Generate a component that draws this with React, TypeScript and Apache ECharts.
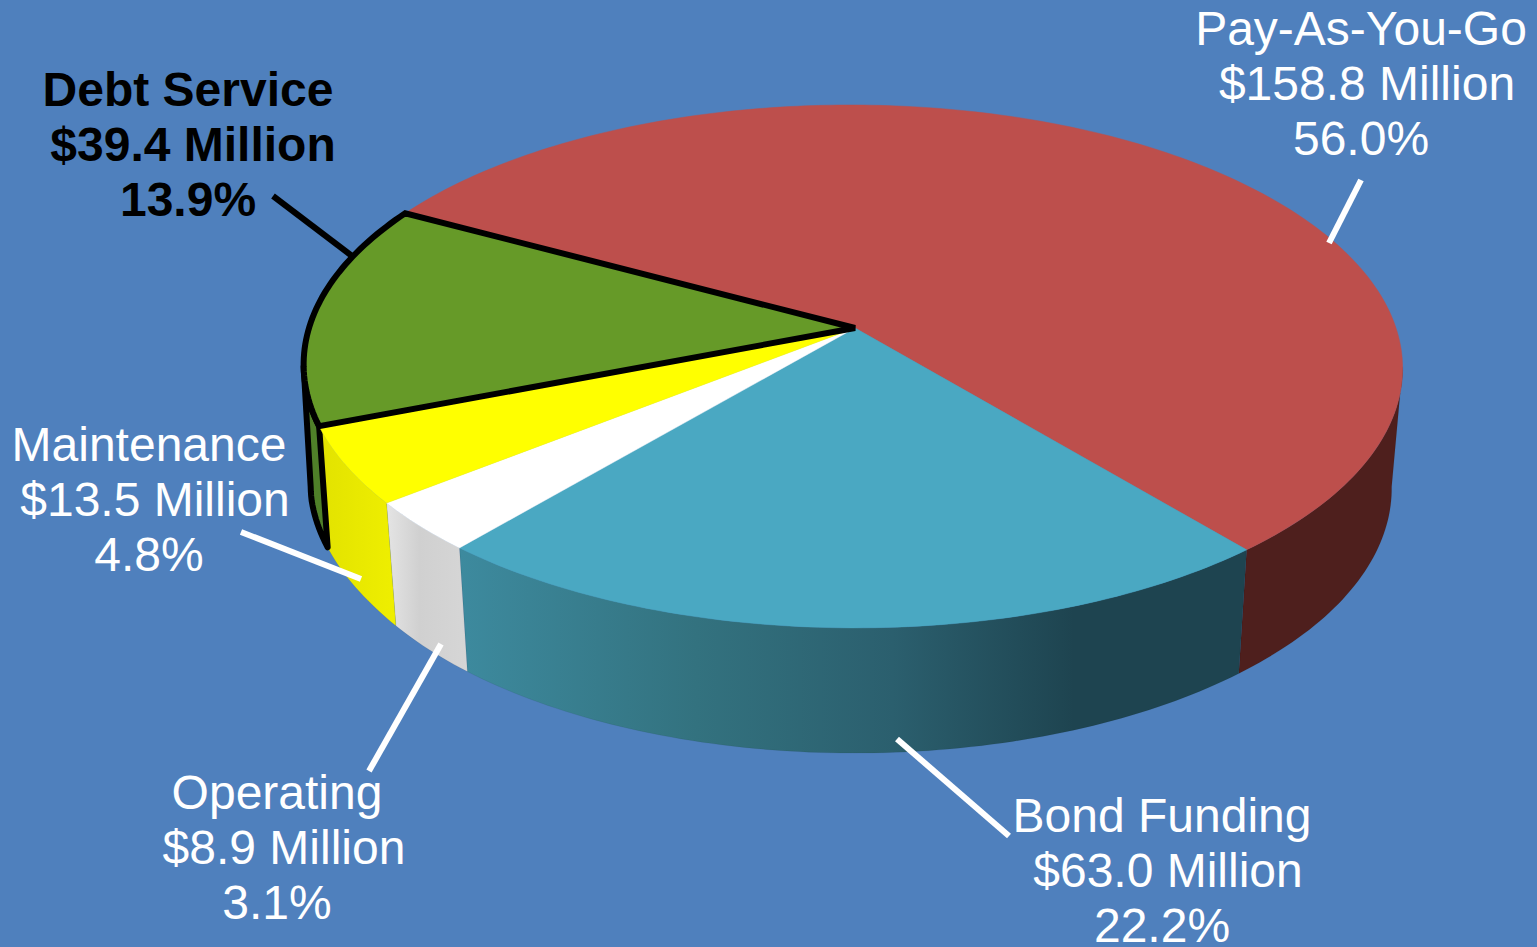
import React, { useEffect, useRef } from "react";
import * as echarts from "echarts";

const categories = ["Pay-As-You-Go", "Bond Funding", "Operating", "Maintenance", "Debt Service"];
const amounts = [158.8, 63.0, 8.9, 13.5, 39.4];
const amountLabels = ["$158.8 Million", "$63.0 Million", "$8.9 Million", "$13.5 Million", "$39.4 Million"];
const percentLabels = ["56.0%", "22.2%", "3.1%", "4.8%", "13.9%"];
const topColors = ["#bd4f4c", "#4aa8c2", "#ffffff", "#ffff00", "#669a28"];

const total = amounts.reduce((a, b) => a + b, 0);
const START_DEG = -61.3;

// Perspective disc: circle angle (clockwise from the back) -> screen point
const APEX_X = 855, APEX_Y = 328, A = 543.5, B = 255.8, K = -0.147;
const VISIBLE_FROM = 98.5, VISIBLE_TO = 261.5;
const project = (deg: number): [number, number] => {
  const t = (deg * Math.PI) / 180;
  const u = Math.sin(t), v = -Math.cos(t);
  const d = 1 + K * v;
  const lean = -Math.min(5, Math.max(0, (2.5 * (0.6 - v)) / 0.6));
  return [APEX_X + (A * u) / d + lean, APEX_Y + (B * v) / d];
};
const drop = (p: [number, number]): [number, number] => {
  const leftPull = p[0] < APEX_X ? 4 * Math.min(1, Math.max(0, (480 - p[1]) / 100)) : 0;
  return [APEX_X + 0.98 * (p[0] - APEX_X) - leftPull, p[1] + 120 + (p[1] - 366) * 0.02];
};
const arcPoints = (from: number, to: number) => {
  const n = Math.max(2, Math.ceil(Math.abs(to - from)));
  const pts: [number, number][] = [];
  for (let i = 0; i <= n; i++) pts.push(project(from + ((to - from) * i) / n));
  return pts;
};
const sliceRange = (i: number) => {
  let before = 0;
  for (let j = 0; j < i; j++) before += amounts[j];
  return [START_DEG + (before / total) * 360, START_DEG + ((before + amounts[i]) / total) * 360];
};

const wallFill = (i: number): any => {
  const G = echarts.graphic.LinearGradient as any;
  if (i === 0) return "#4e1f1d";
  if (i === 1)
    return new G(460, 0, 1247, 0, [
      { offset: 0, color: "#3d8a9e" },
      { offset: 0.3, color: "#33727f" },
      { offset: 0.55, color: "#2b5f6e" },
      { offset: 0.78, color: "#1e4450" },
      { offset: 1, color: "#1e4450" },
    ], true);
  if (i === 2)
    return new G(387, 0, 468, 0, [
      { offset: 0, color: "#e4e4e4" },
      { offset: 0.4, color: "#d0d0d0" },
      { offset: 1, color: "#d6d6d6" },
    ], true);
  if (i === 3)
    return new G(318, 0, 396, 0, [
      { offset: 0, color: "#e2e200" },
      { offset: 1, color: "#efef00" },
    ], true);
  return "#4f8029";
};

const renderWall = (params: any) => {
  const i = params.dataIndex;
  const [a, b] = sliceRange(i);
  const from = Math.max(a, VISIBLE_FROM);
  const to = Math.min(b, VISIBLE_TO);
  const top = arcPoints(from, to);
  const bottom = top.map(drop).reverse();
  const debt = i === 4;
  return {
    type: "polygon",
    shape: { points: [...top, ...bottom] },
    style: {
      fill: wallFill(i),
      stroke: debt ? "#000000" : "rgba(0,0,0,0.10)",
      lineWidth: debt ? 6 : 0.6,
      lineJoin: "round",
    },
  };
};

const renderTop = (params: any) => {
  const i = params.dataIndex;
  const [a, b] = sliceRange(i);
  const debt = i === 4;
  const points = [[APEX_X, APEX_Y], ...arcPoints(a, b)];
  return {
    type: "polygon",
    shape: { points },
    style: {
      fill: topColors[i],
      stroke: debt ? "#000000" : topColors[i],
      lineWidth: debt ? 6 : 0.5,
      lineJoin: "miter",
    },
  };
};

// Layout of the three label lines: centre x per line and first-line centre y
const labelLayout = [
  { xs: [1361, 1367, 1361], y: 28 },
  { xs: [1162, 1168, 1162], y: 815 },
  { xs: [277, 284, 277], y: 792 },
  { xs: [149, 155, 149], y: 444 },
  { xs: [188, 193, 188], y: 89 },
];
const leaderLayout = [
  [1361, 180, 1329, 243],
  [897, 739, 1009, 836],
  [441, 644, 369, 771],
  [241, 532, 361, 579],
  [273, 196, 352, 256],
];

const buildGraphics = () => {
  const els: any[] = [];
  categories.forEach((name, i) => {
    const debt = i === 4;
    const color = debt ? "#000000" : "#ffffff";
    const [x1, y1, x2, y2] = leaderLayout[i];
    els.push({
      type: "line",
      z: 20,
      shape: { x1, y1, x2, y2 },
      style: { stroke: color, lineWidth: 6 },
    });
    [name, amountLabels[i], percentLabels[i]].forEach((text, l) => {
      els.push({
        type: "text",
        z: 21,
        x: labelLayout[i].xs[l],
        y: labelLayout[i].y + l * 55.3,
        style: {
          text,
          fill: color,
          font: `${debt ? "bold " : ""}48px "Liberation Sans"`,
          textAlign: "center",
          textVerticalAlign: "middle",
        },
      });
    });
  });
  return els;
};

export default function App() {
  const ref = useRef<HTMLDivElement>(null);
  useEffect(() => {
    document.body.style.margin = "0";
    document.body.style.overflow = "hidden";
    const chart = echarts.init(ref.current!, undefined, { renderer: "svg" });
    chart.setOption({
      animation: false,
      backgroundColor: "#4f80bd",
      graphic: { elements: buildGraphics() },
      series: [
        {
          type: "custom",
          name: "walls",
          coordinateSystem: "none",
          z: 2,
          silent: true,
          data: amounts,
          renderItem: renderWall,
        },
        {
          type: "custom",
          name: "tops",
          coordinateSystem: "none",
          z: 3,
          silent: true,
          data: amounts,
          renderItem: renderTop,
        },
      ],
    });
    return () => chart.dispose();
  }, []);
  return <div ref={ref} style={{ width: 1537, height: 947 }} />;
}
